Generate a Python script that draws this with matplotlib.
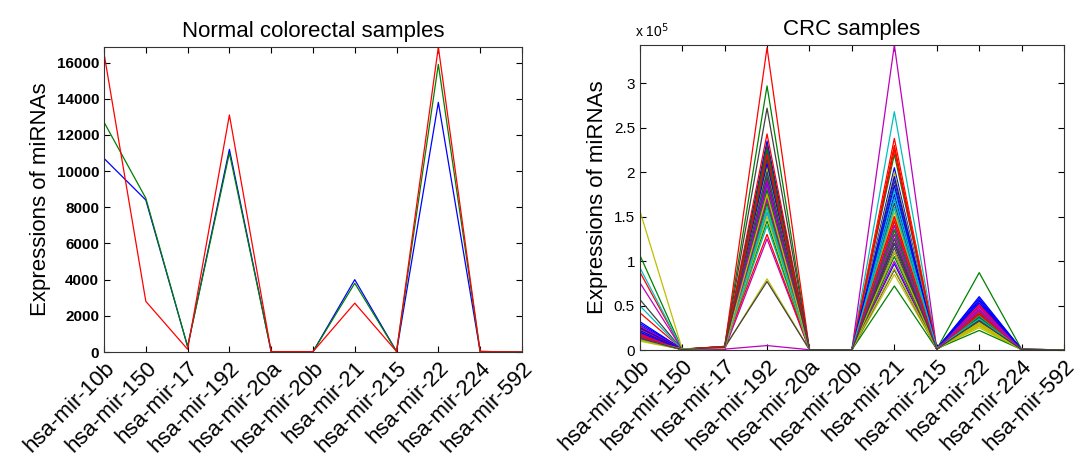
import numpy as np
import matplotlib.pyplot as plt

plt.rcParams['font.family'] = ['Liberation Sans', 'DejaVu Sans']

mirnas = ["hsa-mir-10b", "hsa-mir-150", "hsa-mir-17", "hsa-mir-192", "hsa-mir-20a",
          "hsa-mir-20b", "hsa-mir-21", "hsa-mir-215", "hsa-mir-22", "hsa-mir-224",
          "hsa-mir-592"]

# normal colorectal samples (3 samples)
normal_blue = [10700, 8400, 300, 11200, 20, 20, 4000, 30, 13800, 30, 0]
normal_green = [12700, 8500, 300, 11000, 20, 20, 3800, 30, 15900, 30, 0]
normal_red = [16500, 2800, 150, 13100, 20, 20, 2700, 30, 16850, 30, 0]

# CRC samples, values in units of 1e5, one entry per sample
crc_10b = [0.32, 1.07, 0.88, 0.93, 0.76, 1.57, 0.57, 0.28, 0.25, 0.42,
           0.50, 0.22, 0.10, 0.20, 0.18, 0.15, 0.13, 0.24, 0.12, 0.14,
           0.16, 0.30, 0.20, 0.26, 0.21, 0.27, 0.12, 0.19, 0.22, 0.17,
           0.24, 0.16, 0.19, 0.11, 0.14, 0.25, 0.13, 0.18, 0.15, 0.17,
           0.13, 0.15, 0.20, 0.14, 0.16, 0.12, 0.14, 0.12, 0.13]
crc_150 = [0.01, 0.01, 0.005, 0.01, 0.005, 0.01, 0.005, 0.01, 0.005, 0.01,
           0.005, 0.01, 0.005, 0.01, 0.005, 0.01, 0.005, 0.01, 0.005, 0.01,
           0.005, 0.01, 0.005, 0.01, 0.005, 0.01, 0.005, 0.01, 0.005, 0.01,
           0.005, 0.01, 0.005, 0.01, 0.005, 0.01, 0.005, 0.01, 0.005, 0.01,
           0.005, 0.01, 0.005, 0.01, 0.005, 0.01, 0.005, 0.01, 0.005]
crc_17 = [0.02, 0.04, 0.03, 0.02, 0.01, 0.02, 0.03, 0.02, 0.04, 0.03,
          0.02, 0.01, 0.02, 0.03, 0.02, 0.03, 0.04, 0.02, 0.01, 0.02,
          0.03, 0.02, 0.03, 0.04, 0.02, 0.01, 0.02, 0.03, 0.02, 0.03,
          0.04, 0.02, 0.01, 0.02, 0.03, 0.02, 0.03, 0.02, 0.02, 0.01,
          0.02, 0.03, 0.02, 0.03, 0.04, 0.02, 0.01, 0.02, 0.03]
crc_192 = [2.35, 2.97, 3.40, 1.40, 1.55, 0.80, 2.72, 2.30, 1.45, 2.43,
           1.80, 1.25, 1.60, 0.77, 2.25, 2.10, 1.30, 1.75, 0.05, 1.65,
           2.05, 2.20, 2.00, 2.15, 1.85, 1.95, 1.70, 2.30, 1.70, 2.25,
           1.90, 1.60, 1.85, 2.05, 1.95, 2.10, 1.65, 1.75, 2.00, 1.70,
           1.50, 2.15, 1.90, 1.80, 2.20, 1.55, 1.90, 1.75, 2.00]
crc_20a = [0.003, 0.002, 0.003, 0.002, 0.003, 0.002, 0.003, 0.002, 0.003, 0.002,
           0.003, 0.002, 0.003, 0.002, 0.003, 0.002, 0.003, 0.002, 0.003, 0.002,
           0.003, 0.002, 0.003, 0.002, 0.003, 0.002, 0.003, 0.002, 0.003, 0.002,
           0.003, 0.002, 0.003, 0.002, 0.003, 0.002, 0.003, 0.002, 0.003, 0.002,
           0.003, 0.002, 0.003, 0.002, 0.003, 0.002, 0.003, 0.002, 0.003]
crc_20b = [0.002, 0.003, 0.002, 0.003, 0.002, 0.003, 0.002, 0.003, 0.002, 0.003,
           0.002, 0.003, 0.002, 0.003, 0.002, 0.003, 0.002, 0.003, 0.002, 0.003,
           0.002, 0.003, 0.002, 0.003, 0.002, 0.003, 0.002, 0.003, 0.002, 0.003,
           0.002, 0.003, 0.002, 0.003, 0.002, 0.003, 0.002, 0.003, 0.002, 0.003,
           0.002, 0.003, 0.002, 0.003, 0.002, 0.003, 0.002, 0.003, 0.002]
crc_21 = [2.05, 1.30, 2.38, 2.68, 3.43, 0.85, 1.90, 1.75, 0.72, 1.45,
          1.80, 1.10, 2.30, 0.90, 0.97, 2.20, 1.50, 1.60, 1.20, 2.00,
          1.35, 1.70, 1.40, 2.30, 1.80, 1.25, 1.55, 1.65, 1.20, 1.10,
          1.45, 1.30, 1.00, 1.50, 1.15, 1.85, 1.05, 2.25, 1.60, 1.40,
          1.10, 1.25, 1.95, 1.35, 1.50, 1.70, 1.30, 0.92, 1.20]
crc_215 = [0.01, 0.02, 0.01, 0.015, 0.01, 0.02, 0.01, 0.015, 0.01, 0.02,
           0.01, 0.015, 0.01, 0.02, 0.01, 0.015, 0.01, 0.02, 0.01, 0.015,
           0.01, 0.02, 0.01, 0.015, 0.01, 0.02, 0.01, 0.015, 0.01, 0.02,
           0.01, 0.015, 0.01, 0.02, 0.01, 0.015, 0.01, 0.02, 0.01, 0.015,
           0.01, 0.02, 0.01, 0.015, 0.01, 0.02, 0.01, 0.015, 0.01]
crc_22 = [0.60, 0.45, 0.35, 0.40, 0.50, 0.25, 0.30, 0.55, 0.87, 0.48,
          0.38, 0.42, 0.28, 0.33, 0.30, 0.22, 0.38, 0.36, 0.32, 0.27,
          0.35, 0.58, 0.40, 0.45, 0.43, 0.52, 0.30, 0.38, 0.32, 0.41,
          0.50, 0.34, 0.46, 0.29, 0.36, 0.53, 0.37, 0.42, 0.39, 0.48,
          0.31, 0.34, 0.56, 0.44, 0.40, 0.35, 0.44, 0.27, 0.33]
crc_224 = [0.005, 0.004, 0.006, 0.005, 0.004, 0.006, 0.005, 0.004, 0.006, 0.005,
           0.004, 0.006, 0.005, 0.004, 0.006, 0.005, 0.004, 0.006, 0.005, 0.004,
           0.006, 0.005, 0.004, 0.006, 0.005, 0.004, 0.006, 0.005, 0.004, 0.006,
           0.005, 0.004, 0.006, 0.005, 0.004, 0.006, 0.005, 0.004, 0.006, 0.005,
           0.004, 0.006, 0.005, 0.004, 0.006, 0.005, 0.004, 0.006, 0.005]
crc_592 = [0.002, 0.002, 0.003, 0.002, 0.002, 0.003, 0.002, 0.002, 0.003, 0.002,
           0.002, 0.003, 0.002, 0.002, 0.003, 0.002, 0.002, 0.003, 0.002, 0.002,
           0.003, 0.002, 0.002, 0.003, 0.002, 0.002, 0.003, 0.002, 0.002, 0.003,
           0.002, 0.002, 0.003, 0.002, 0.002, 0.003, 0.002, 0.002, 0.003, 0.002,
           0.002, 0.003, 0.002, 0.002, 0.003, 0.002, 0.002, 0.003, 0.002]

# old matlab colour order
matlab_colors = [(0, 0, 1), (0, 0.5, 0), (1, 0, 0), (0, 0.75, 0.75),
                 (0.75, 0, 0.75), (0.75, 0.75, 0), (0.25, 0.25, 0.25)]

x = np.arange(len(mirnas))


def style_axes(ax, title, bold_y=False):
    ax.set_xlim(0, len(mirnas) - 1)
    ax.set_xticks(x)
    ax.set_xticklabels(mirnas, rotation=45, ha='right', va='top',
                       rotation_mode='anchor', fontsize=16)
    ax.tick_params(direction='in', top=True, right=True, length=4,
                   width=0.8, labelsize=11)
    ax.tick_params(axis='x', labelsize=16, pad=4)
    if bold_y:
        for lbl in ax.get_yticklabels():
            lbl.set_fontweight('bold')
    ax.set_ylabel("Expressions of miRNAs", fontsize=16)
    ax.set_title(title, fontsize=16, pad=7)
    for s in ax.spines.values():
        s.set_linewidth(0.8)
        s.set_color('#333333')


fig = plt.figure(figsize=(10.77, 4.58), dpi=100)

ax1 = fig.add_axes([0.0966, 0.2314, 0.388, 0.6657])
for vals, c in zip([normal_blue, normal_green, normal_red], matlab_colors[:3]):
    ax1.plot(x, vals, color=c, lw=0.9)
ax1.set_ylim(0, max(normal_red))
ax1.set_yticks(np.arange(0, 16001, 2000))
style_axes(ax1, "Normal colorectal samples", bold_y=True)

ax2 = fig.add_axes([0.594, 0.2358, 0.394, 0.6659])
crc = np.array([crc_10b, crc_150, crc_17, crc_192, crc_20a, crc_20b,
                crc_21, crc_215, crc_22, crc_224, crc_592])
for i in range(crc.shape[1]):
    ax2.plot(x, crc[:, i], color=matlab_colors[i % 7], lw=0.9)
ax2.set_ylim(0, crc.max())
ax2.set_yticks([0, 0.5, 1, 1.5, 2, 2.5, 3])
ax2.set_yticklabels(["0", "0.5", "1", "1.5", "2", "2.5", "3"])
style_axes(ax2, "CRC samples")
ax2.text(-0.01, 1.015, r"x 10$^5$", transform=ax2.transAxes, fontsize=10,
         ha='left', va='bottom')

fig.savefig("out.png", dpi=100)
